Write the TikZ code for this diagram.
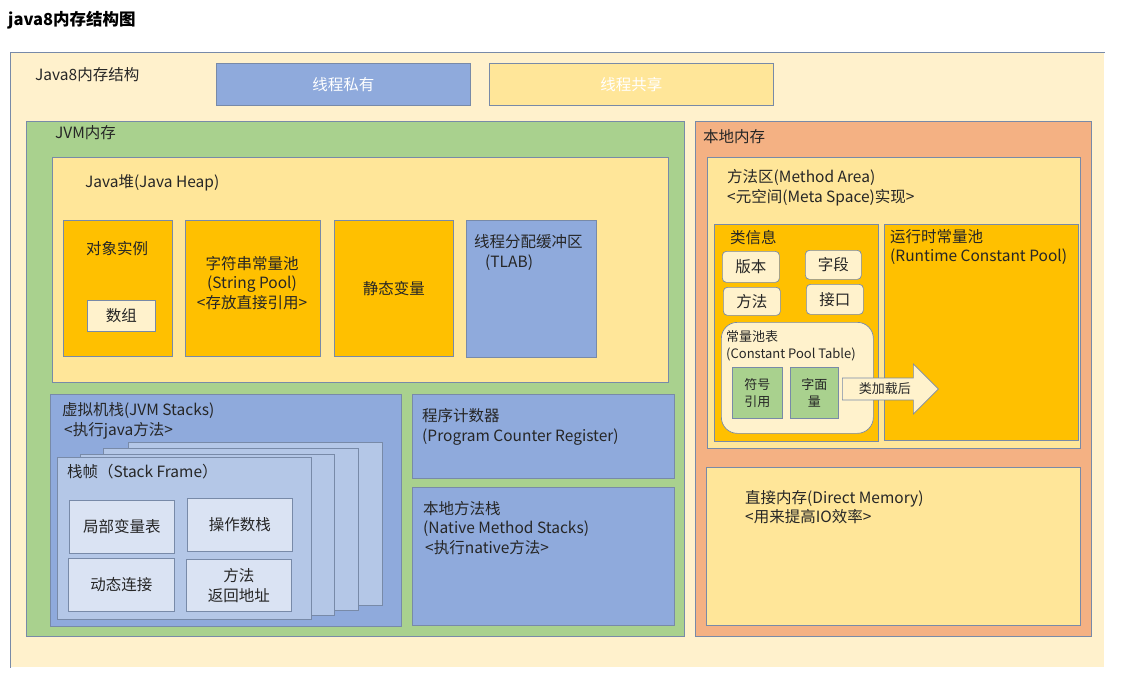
\documentclass[tikz,border=0pt]{standalone}
\usepackage{fontspec}
\setmainfont{Noto Sans CJK SC}
\usetikzlibrary{positioning, calc, shapes.arrows}
\definecolor{bgcream}{RGB}{255,241,204}
\definecolor{boxblue}{RGB}{143,170,220}
\definecolor{boxyellow}{RGB}{255,230,153}
\definecolor{boxgreen}{RGB}{169,209,142}
\definecolor{boxorange}{RGB}{244,177,131}
\definecolor{boxgold}{RGB}{255,192,0}
\definecolor{lightcream}{RGB}{255,242,204}
\definecolor{paleblue}{RGB}{180,199,231}
\definecolor{faintblue}{RGB}{218,227,243}
\definecolor{edgegray}{RGB}{120,138,168}
\definecolor{inkgray}{RGB}{38,38,38}

\begin{document}
\begin{tikzpicture}[
  x=1pt, y=-1pt,
  area/.style={draw=edgegray, line width=0.7pt, anchor=north west, inner sep=0pt},
  tag/.style={rounded corners=4pt},
  txt/.style={anchor=west, align=left, text=inkgray, inner sep=0pt, font=\fontsize{15.5}{19.5}\selectfont},
  ctxt/.style={align=center, text=inkgray, inner sep=0pt, font=\fontsize{15.5}{19.5}\selectfont},
  small/.style={font=\fontsize{13}{16.5}\selectfont}
]
  \useasboundingbox (0,0) rectangle (1124,682);

  % title and outer frame
  \node[anchor=west, inner sep=0pt, font=\fontsize{16.5}{18}\selectfont\bfseries] (title) at (8,20) {java8内存结构图};
  \node[area, draw=none, fill=bgcream, minimum width=1094, minimum height=615] (outer) at (10,52) {};
  \draw[edgegray, line width=0.7pt] (outer.south west) -- (outer.north west) -- (outer.north east);
  \node[txt] (otitle) at (35,75) {Java8内存结构};

  % legend
  \node[area, fill=boxblue, minimum width=254, minimum height=42] (private) at (216,63) {};
  \node[ctxt, text=white] at (private.center) {线程私有};
  \node[area, fill=boxyellow, minimum width=284, minimum height=42] (shared) at (489,63) {};
  \node[ctxt, text=white] at (shared.center) {线程共享};

  % JVM memory
  \node[area, fill=boxgreen, minimum width=658, minimum height=515] (jvm) at (26,121) {};
  \node[txt] at (55,133) {JVM内存};

  \node[area, fill=boxyellow, minimum width=616, minimum height=225] (heap) at (52,157) {};
  \node[txt] at (85,183) {Java堆(Java Heap)};
  \node[area, fill=boxgold, minimum width=109, minimum height=136] (obj) at (63,220) {};
  \node[ctxt] at (117,249) {对象实例};
  \node[area, fill=lightcream, minimum width=68, minimum height=31] (arr) at (87,300) {};
  \node[ctxt] at (arr.center) {数组};
  \node[area, fill=boxgold, minimum width=135, minimum height=136] (spool) at (185,220) {};
  \node[ctxt] at (252,283) {字符串常量池\\(String Pool)\\<存放直接引用>};
  \node[area, fill=boxgold, minimum width=119, minimum height=136] (static) at (334,220) {};
  \node[ctxt] at (static.center) {静态变量};
  \node[area, fill=boxblue, minimum width=130, minimum height=137] (tlab) at (466,220) {};
  \node[txt] at (474,252.5) {线程分配缓冲区\\\hspace{11pt}(TLAB)};

  \node[area, fill=boxblue, minimum width=351, minimum height=232] (vstack) at (50,394) {};
  \node[txt] at (62,421) {虚拟机栈(JVM Stacks)\\\hspace{2pt}<执行java方法>};
  \node[area, fill=paleblue, minimum width=254, minimum height=163] (frameD) at (128,442) {};
  \node[area, fill=paleblue, minimum width=255, minimum height=162] (frameC) at (103,448) {};
  \node[area, fill=paleblue, minimum width=254, minimum height=161] (frameB) at (80,454) {};
  \node[area, fill=paleblue, minimum width=254, minimum height=162] (frameA) at (57,457) {};
  \node[txt] at (67,472) {栈帧（Stack Frame）};
  \node[area, fill=faintblue, minimum width=105, minimum height=53] (locals) at (69,500) {};
  \node[ctxt] at (locals.center) {局部变量表};
  \node[area, fill=faintblue, minimum width=105, minimum height=53] (operand) at (187,498) {};
  \node[ctxt] at (operand.center) {操作数栈};
  \node[area, fill=faintblue, minimum width=106, minimum height=53] (dynlink) at (68,558) {};
  \node[ctxt] at (dynlink.center) {动态连接};
  \node[area, fill=faintblue, minimum width=105, minimum height=52] (retaddr) at (186,559) {};
  \node[ctxt] at (retaddr.center) {方法\\返回地址};

  \node[area, fill=boxblue, minimum width=262, minimum height=84] (pc) at (412,394) {};
  \node[txt] at (422,427) {程序计数器\\(Program Counter Register)};
  \node[area, fill=boxblue, minimum width=262, minimum height=138] (nstack) at (412,487) {};
  \node[txt] at (423,528) {本地方法栈\\(Native Method Stacks)\\\hspace{2pt}<执行native方法>};

  % native memory
  \node[area, fill=boxorange, minimum width=396, minimum height=515] (native) at (695,121) {};
  \node[txt] at (703,137) {本地内存};

  \node[area, fill=boxyellow, minimum width=373, minimum height=291] (method) at (707,157) {};
  \node[txt] at (727,187.5) {方法区(Method Area)\\<元空间(Meta Space)实现>};
  \node[area, fill=boxgold, minimum width=164, minimum height=217] (cinfo) at (714,224) {};
  \node[txt] at (730,238) {类信息};
  \node[area, tag, fill=lightcream, minimum width=57, minimum height=31] (ver) at (722,251) {};
  \node[ctxt] at (ver.center) {版本};
  \node[area, tag, fill=lightcream, minimum width=56, minimum height=29] (field) at (805,250) {};
  \node[ctxt] at (field.center) {字段};
  \node[area, tag, fill=lightcream, minimum width=57, minimum height=28] (meth) at (723,287) {};
  \node[ctxt] at (meth.center) {方法};
  \node[area, tag, fill=lightcream, minimum width=57, minimum height=30] (iface) at (806,284) {};
  \node[ctxt] at (iface.center) {接口};
  \node[area, rounded corners=16pt, fill=lightcream, minimum width=152, minimum height=111] (cpt) at (721,322) {};
  \node[txt, small] at (726,346) {常量池表\\(Constant Pool Table)};
  \node[area, fill=boxgreen, minimum width=50, minimum height=51] (symref) at (732,367) {};
  \node[ctxt, small] at (symref.center) {符号\\引用};
  \node[area, fill=boxgreen, minimum width=48, minimum height=51] (literal) at (790,367) {};
  \node[ctxt, small] at (literal.center) {字面\\量};

  \node[area, fill=boxgold, minimum width=194, minimum height=216] (rcp) at (884,224) {};
  \node[txt] at (890,247) {运行时常量池\\(Runtime Constant Pool)};

  \node[single arrow, draw=edgegray, line width=0.7pt, fill=lightcream, text=inkgray, small,
        minimum height=96pt, minimum width=50pt, single arrow head extend=12pt, inner sep=3pt,
        anchor=tail] (load) at (842,389) {类加载后};

  \node[area, fill=boxyellow, minimum width=374, minimum height=158] (direct) at (706,467) {};
  \node[txt] at (745,507) {直接内存(Direct Memory)\\<用来提高IO效率>};
\end{tikzpicture}
\end{document}
